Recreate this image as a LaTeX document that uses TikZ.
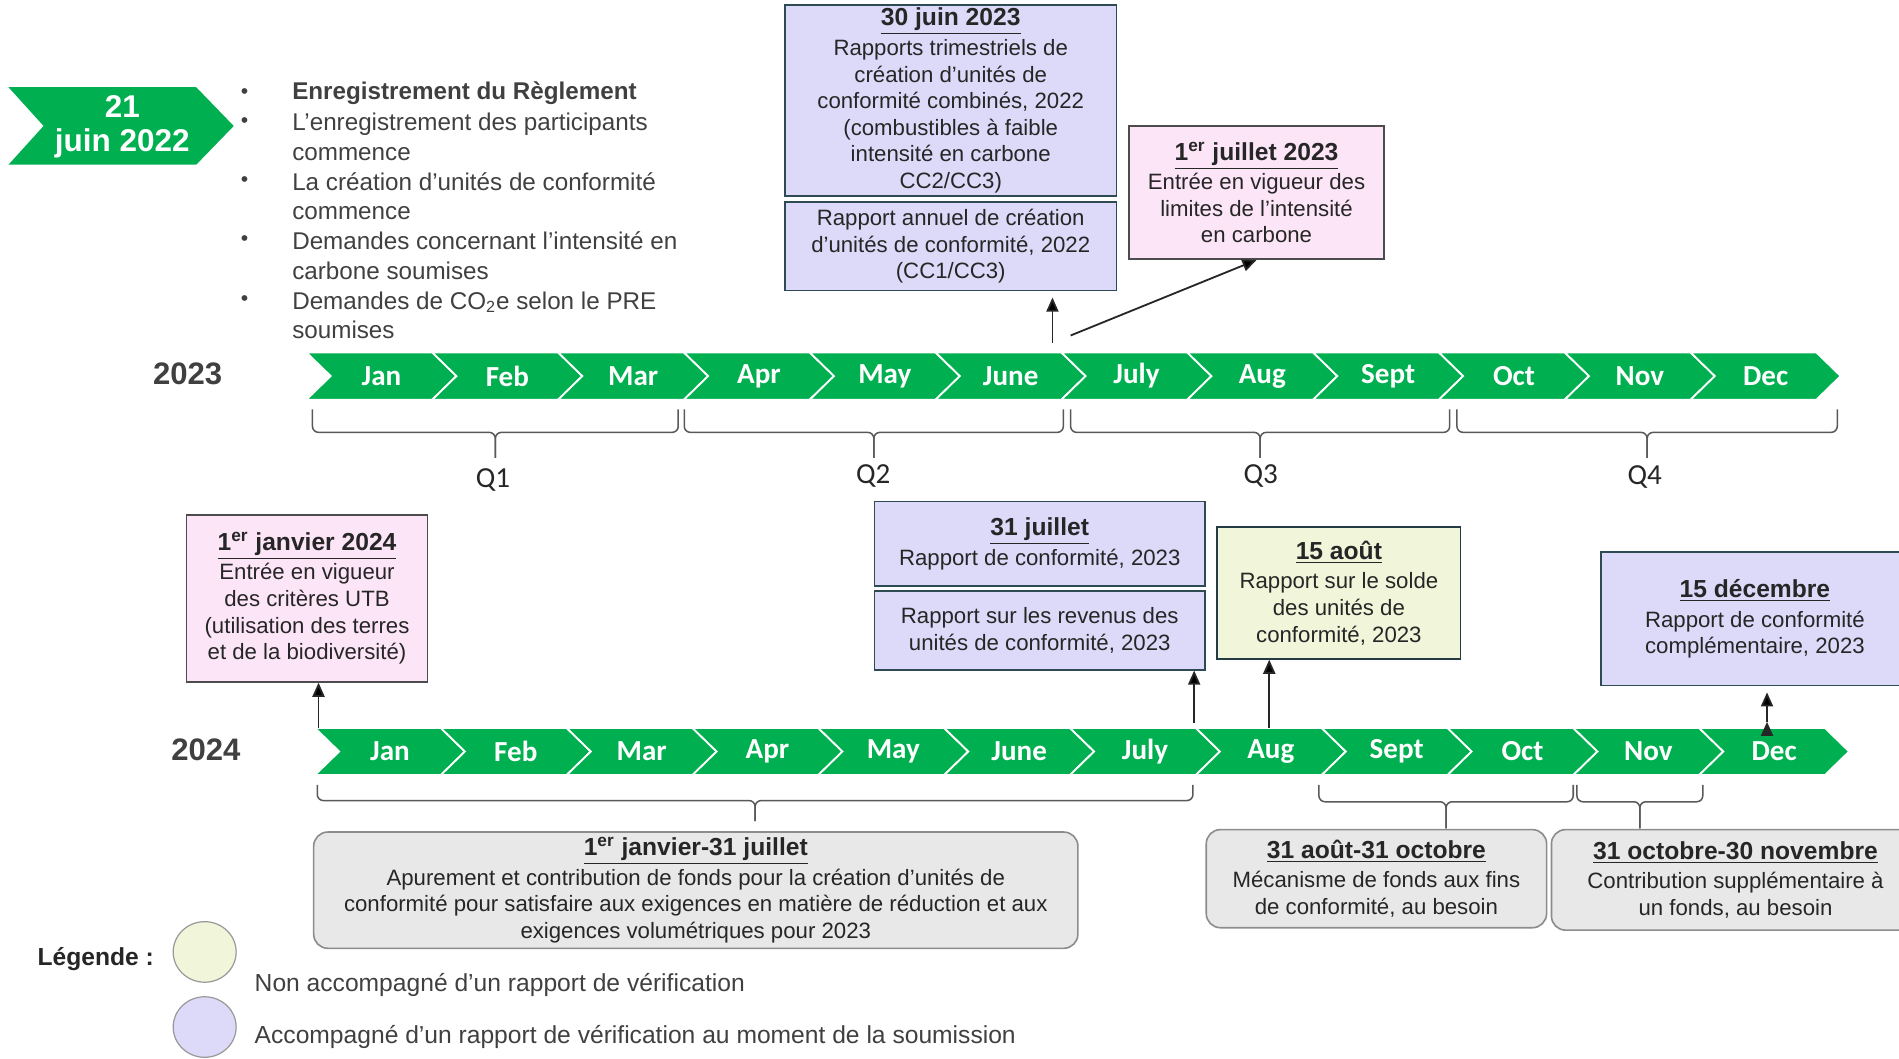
\documentclass[tikz,border=0pt]{standalone}
\usepackage{fontspec}
\setmainfont{Liberation Sans}
\newfontfamily\monthfont{Carlito}
\usetikzlibrary{arrows.meta,shapes.geometric}

\definecolor{tlgreen}{HTML}{00B050}
\definecolor{lav}{HTML}{DCDAF8}
\definecolor{pinkbox}{HTML}{FDE5F8}
\definecolor{yelbox}{HTML}{F1F5DA}
\definecolor{greybox}{HTML}{E8E8E8}
\definecolor{boxline}{HTML}{2D4A55}
\definecolor{txtgray}{HTML}{262626}
\definecolor{bullgray}{HTML}{404040}

\newcommand{\boxtitle}[1]{{\fontsize{12.2}{15}\selectfont\bfseries\underline{#1}}}
% quarter brace: x1, x2, top, bar, tip
\newcommand{\qbrace}[5]{%
  \pgfmathsetmacro\bracemid{(#1+#2)/2}
  \draw[brace] (#1,#3) |- (\bracemid,#4) -- (\bracemid,#5);
  \draw[brace] (#2,#3) |- (\bracemid,#4) -- (\bracemid,#5);}

\begin{document}
\begin{tikzpicture}[x=0.6pt,y=-0.6pt,font=\fontsize{11}{13.2}\selectfont,text=txtgray]
  \tikzstyle{lavbox} = [draw=boxline, fill=lav, line width=0.8pt, inner sep=0pt, align=center]
  \tikzstyle{pinkbx} = [lavbox, draw=black!70, fill=pinkbox]
  \tikzstyle{yelbx} = [lavbox, draw=boxline!80!black, fill=yelbox]
  \tikzstyle{greybx} = [draw=black!45, fill=greybox, line width=0.8pt, rounded corners=7pt, inner sep=0pt, align=center]
  \tikzstyle{chev} = [fill=tlgreen, draw=white, line width=0.9pt]
  \tikzstyle{month} = [font=\monthfont\bfseries\fontsize{14.4}{16}\selectfont, text=white]
  \tikzstyle{quarter} = [font=\monthfont\fontsize{14.4}{16}\selectfont, text=txtgray]
  \tikzstyle{year} = [font=\bfseries\fontsize{15.4}{18}\selectfont, text=bullgray]
  \tikzstyle{item} = [anchor=west, align=left, inner sep=0pt, text=bullgray, font=\fontsize{12}{14.7}\selectfont]
  \tikzstyle{bull} = [inner sep=0pt, text=bullgray, font=\fontsize{10.5}{12}\selectfont]
  \tikzstyle{brace} = [draw=black!65, line width=0.75pt, rounded corners=3pt]
  \tikzstyle{arr} = [draw=txtgray, line width=0.9pt, -{Triangle[length=7pt,width=6pt]}]
  \tikzstyle{legend} = [ellipse, draw=black!40, line width=0.6pt, minimum width=31.2pt, minimum height=30pt]

  \useasboundingbox (0,0) rectangle (1568,874);
  \clip (0,0) rectangle (1568,874);

  % start arrow
  \fill[tlgreen] (7,72) -- (162,72) -- (193,104) -- (162,136) -- (7,136) -- (36,104) -- cycle;
  \node[text=white, font=\bfseries\fontsize{15.6}{16.8}\selectfont, align=center] (start) at (101,105) {21\\juin 2022};

  % bullets
  \node[bull] at (202,77) {•};
  \node[bull] at (202,101) {•};
  \node[bull] at (202,150) {•};
  \node[bull] at (202,199) {•};
  \node[bull] at (202,248) {•};
  \node[item, font=\bfseries\fontsize{12}{14.7}\selectfont] (it1) at (241,77) {Enregistrement du Règlement};
  \node[item] (it2) at (241,113) {L’enregistrement des participants\\commence};
  \node[item] (it3) at (241,162) {La création d’unités de conformité\\commence};
  \node[item] (it4) at (241,211) {Demandes concernant l’intensité en\\carbone soumises};
  \node[item] (it5) at (241,260.5) {Demandes de CO\textsubscript{2}e selon le PRE\\soumises};

  % years
  \node[year] (y23) at (155,309) {2023};
  \node[year] (y24) at (170,619) {2024};

  % timelines
  \foreach \m [count=\i from 0] in {Jan,Feb,Mar,Apr,May,June,July,Aug,Sept,Oct,Nov,Dec} {
    \path[chev] ({253+\i*103.9},291) -- ++(103.9,0) -- ++(20,19.5) -- ++(-20,19.5) -- ++(-103.9,0) -- ++(20,-19.5) -- cycle;
    \node[month] (a\i) at ({253+\i*103.9+62},310.5) {\m};
    \path[chev] ({260+\i*103.9},601) -- ++(103.9,0) -- ++(20,19.5) -- ++(-20,19.5) -- ++(-103.9,0) -- ++(20,-19.5) -- cycle;
    \node[month] (b\i) at ({260+\i*103.9+62},620.5) {\m};
  }

  % quarters 2023
  \qbrace{258}{560}{338}{357}{378}
  \qbrace{565}{878}{338}{357}{378}
  \qbrace{884}{1197}{338}{357}{378}
  \qbrace{1203}{1517}{338}{357}{378}
  \node[quarter] (q1) at (407,396) {Q1};
  \node[quarter] (q2) at (721,393) {Q2};
  \node[quarter] (q3) at (1041,393) {Q3};
  \node[quarter] (q4) at (1358,394) {Q4};

  % periods 2024
  \qbrace{262}{985}{648}{661}{678}
  \qbrace{1089}{1299}{648}{662}{684}
  \qbrace{1302}{1406}{648}{662}{684}

  % 2023 events
  \node[lavbox, minimum width=164.4pt, minimum height=94.8pt] (juin30) at (785,83)
    {\boxtitle{30 juin 2023}\\[1.5pt]Rapports trimestriels de\\création d’unités de\\conformité combinés, 2022\\(combustibles à faible\\intensité en carbone\\CC2/CC3)};
  \node[lavbox, minimum width=164.4pt, minimum height=43.8pt] (annuel) at (785,203.5)
    {Rapport annuel de création\\d’unités de conformité, 2022\\(CC1/CC3)};
  \node[pinkbx, minimum width=126.6pt, minimum height=66pt] (juil23) at (1037.5,159)
    {\boxtitle{1\textsuperscript{er} juillet 2023}\\[1.5pt]Entrée en vigueur des\\limites de l’intensité\\en carbone};

  % 2024 events
  \node[pinkbx, minimum width=119.4pt, minimum height=82.8pt] (jan24) at (253.5,494)
    {\boxtitle{1\textsuperscript{er} janvier 2024}\\[1.5pt]Entrée en vigueur\\des critères UTB\\(utilisation des terres\\et de la biodiversité)};
  \node[lavbox, minimum width=163.8pt, minimum height=42pt] (juil31) at (858.5,449)
    {\boxtitle{31 juillet}\\[1.5pt]Rapport de conformité, 2023};
  \node[lavbox, minimum width=163.8pt, minimum height=39pt] (revenus) at (858.5,520.5)
    {Rapport sur les revenus des\\unités de conformité, 2023};
  \node[yelbx, minimum width=120.6pt, minimum height=65.4pt] (aout15) at (1105.5,489.5)
    {\boxtitle{15 août}\\[1.5pt]Rapport sur le solde\\des unités de\\conformité, 2023};
  \node[lavbox, minimum width=152.4pt, minimum height=66pt] (dec15) at (1449,511)
    {\boxtitle{15 décembre}\\[1.5pt]Rapport de conformité\\complémentaire, 2023};

  % periods
  \node[greybx, minimum width=378.6pt, minimum height=57.6pt] (janjuil) at (574.5,735)
    {\boxtitle{1\textsuperscript{er} janvier-31 juillet}\\[1.5pt]Apurement et contribution de fonds pour la création d’unités de\\conformité pour satisfaire aux exigences en matière de réduction et aux\\exigences volumétriques pour 2023};
  \node[greybx, minimum width=168.6pt, minimum height=48.6pt] (aoutoct) at (1136.5,725.5)
    {\boxtitle{31 août-31 octobre}\\[1.5pt]Mécanisme de fonds aux fins\\de conformité, au besoin};
  \node[greybx, minimum width=182.4pt, minimum height=49.8pt] (octnov) at (1433,726.5)
    {\boxtitle{31 octobre-30 novembre}\\[1.5pt]Contribution supplémentaire à\\un fonds, au besoin};

  % arrows
  \coordinate (t1) at (869,283);
  \coordinate (t2) at (884,277);
  \coordinate (t3) at (263,601);
  \coordinate (t4) at (986,597);
  \coordinate (t5) at (1048,601);
  \coordinate (t6) at (1459,596);
  \path[arr]
        (t1) edge[shorten >=3pt] (t1 |- annuel.south)
        (t2) edge (juil23.south)
        (t3) edge (t3 |- jan24.south)
        (t4) edge (t4 |- revenus.south)
        (t5) edge (t5 |- aout15.south)
        (t6) edge[shorten >=3pt] (t6 |- dec15.south);

  % legend
  \node[font=\bfseries\fontsize{12.2}{15}\selectfont] (leg) at (79,792) {Légende~:};
  \node[legend, fill=yelbox] (legnon) at (169,786) {};
  \node[legend, fill=lav] (legavec) at (169,848) {};
  \node[anchor=west, inner sep=0pt, font=\fontsize{12.2}{15}\selectfont, text=bullgray] (txnon) at (210,813) {Non accompagné d’un rapport de vérification};
  \node[anchor=west, inner sep=0pt, font=\fontsize{12.2}{15}\selectfont, text=bullgray] (txavec) at (210,856) {Accompagné d’un rapport de vérification au moment de la soumission};
\end{tikzpicture}
\end{document}
